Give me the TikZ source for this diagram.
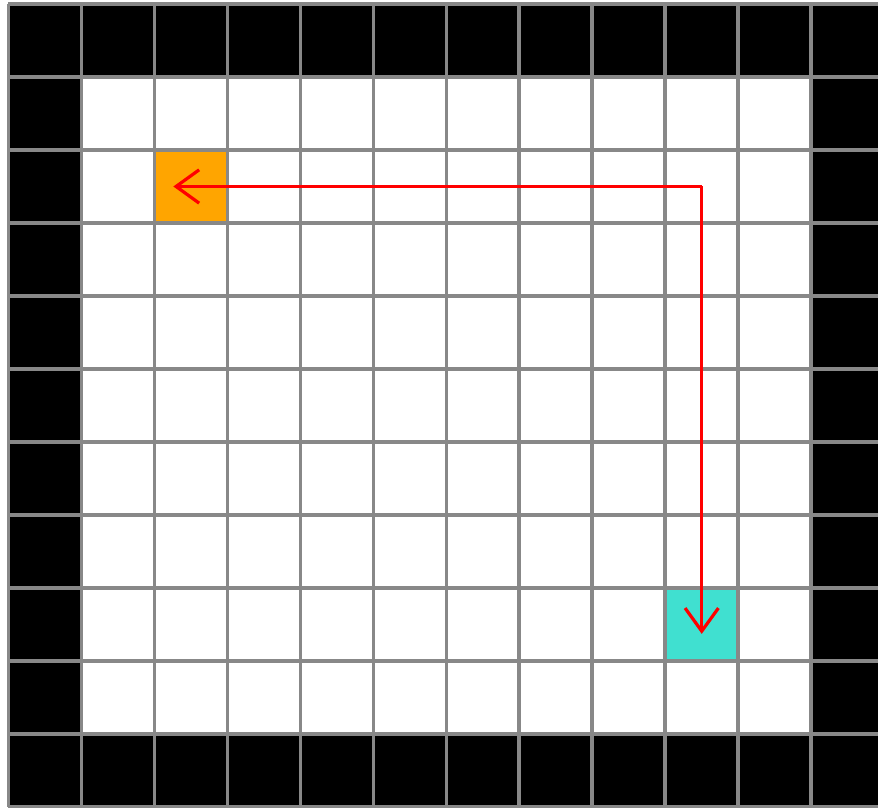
\documentclass[tikz,border=0pt]{standalone}
\usepackage{xcolor}
\usepackage{tikz}
\usetikzlibrary{positioning,arrows.meta}

\definecolor{gridgray}{HTML}{888888}
\definecolor{startorange}{HTML}{FFA500}
\definecolor{goalteal}{HTML}{40E0D0}
\definecolor{pathred}{HTML}{FF0000}

\begin{document}
\begin{tikzpicture}[
  cell/.style={minimum size=1cm, inner sep=0pt, outer sep=0pt},
  gridline/.style={draw=gridgray, line width=1.4pt},
  route/.style={draw=pathred, line width=1.25pt,
                -{Straight Barb[length=9pt, width=13pt, line width=1.25pt]}}
]
  \fill[white] (0,0) rectangle (12.03,-11.07);
  \useasboundingbox (0,0) rectangle (12.03,-11.07);

  \begin{scope}[shift={(0.115,-0.055)}]
    % walls and floor
    \fill[black] (0,0) rectangle (12,-11);
    \fill[white] (1,-1) rectangle (11,-10);

    \node[cell, fill=startorange] (start) at (2.5,-2.5) {};
    \node[cell, fill=goalteal]    (goal)  at (9.5,-8.5) {};
    \coordinate (turn) at (9.5,-2.5);

    % grid lines
    \foreach \x in {0,...,12}
      \draw[gridline] (\x,0) -- (\x,-11);
    \foreach \y in {0,...,11}
      \draw[gridline] (0,-\y) -- (12,-\y);

    \draw[route] (turn) -- ([xshift=-0.24cm]start.center);
    \draw[route] (turn) -- ([yshift=-0.13cm]goal.center);
  \end{scope}
\end{tikzpicture}
\end{document}
